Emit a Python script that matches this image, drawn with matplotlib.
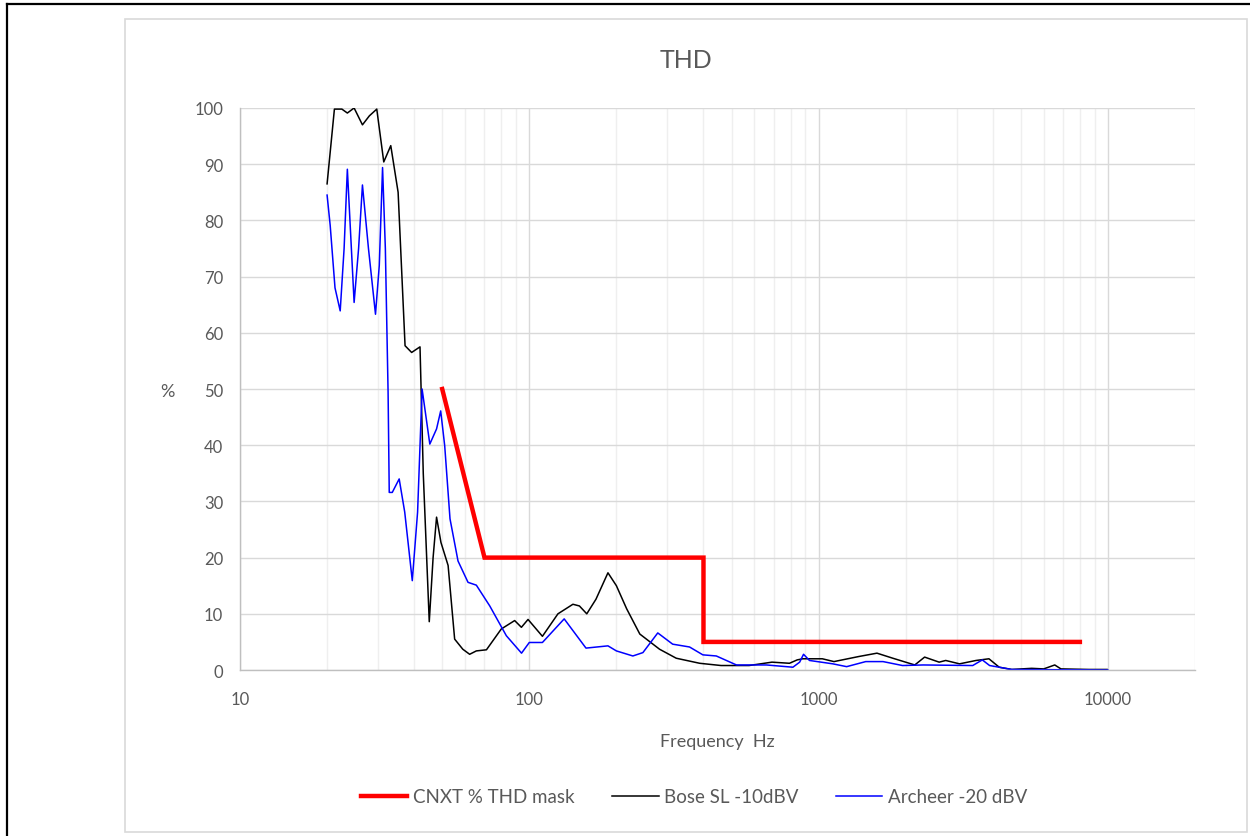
import matplotlib
matplotlib.use("Agg")

import matplotlib.pyplot as plt
from matplotlib.lines import Line2D
from matplotlib.patches import Rectangle
from matplotlib.ticker import FixedLocator, LogLocator, NullFormatter

plt.rcParams["font.family"] = ["Lato", "DejaVu Sans"]

# CNXT THD mask
mask_freq = [50, 70, 400, 400, 8000]
mask_thd = [50, 20, 20, 5, 5]

# Bose SL -10dBV
bose_freq = [20, 21.2, 22.5, 23.5, 24.8, 26.5, 28.0, 29.7, 31.4, 33.2, 35.2, 37.2, 39.2,
             41.9, 43.0, 45.1, 46.5, 47.8, 49.5, 52.4, 55.2, 58.9, 62.2, 65.6, 71.1, 80.0,
             89.0, 93.9, 99.0, 111, 125.6, 141.5, 149, 158, 170, 187, 200, 217, 241,
             282, 322, 388, 460, 575, 690, 793, 843, 881, 1030, 1130, 1376, 1591,
             1805, 2150, 2325, 2610, 2750, 3070, 3500, 3880, 4210, 4650, 5450, 6000,
             6550, 6880, 8590, 9930]
bose_thd = [86.5, 99.8, 99.8, 99.1, 100, 97.0, 98.6, 99.8, 90.4, 93.3, 85, 57.7, 56.5,
            57.5, 35.0, 8.6, 20.0, 27.2, 22.7, 18.6, 5.5, 3.7, 2.8, 3.4, 3.6, 7.3,
            8.8, 7.6, 9.0, 6.0, 10.0, 11.7, 11.4, 10.0, 12.6, 17.3, 15.0, 10.9, 6.4,
            3.7, 2.1, 1.2, 0.8, 0.8, 1.4, 1.2, 1.8, 2.0, 2.0, 1.5, 2.4, 3.0,
            2.1, 0.9, 2.3, 1.4, 1.7, 1.1, 1.7, 2.0, 0.5, 0.1, 0.3, 0.2,
            0.9, 0.2, 0.1, 0.1]

# Archeer -20 dBV
archeer_freq = [20, 20.5, 21.3, 22.2, 22.9, 23.5, 24.1, 24.8, 25.7, 26.5, 27.8, 29.4,
                30.3, 31.1, 31.8, 32.5, 32.8, 33.6, 35.5,
                37.1, 39.4, 41.1, 42.6, 45.3, 47.8, 49.4, 51.0, 53.2, 56.7, 61.4, 65.6,
                73.0, 83.3, 94, 100, 111, 132, 157, 187, 200, 228, 247, 278, 313,
                358, 398, 443, 520, 660, 815, 860, 887, 930, 1120, 1250, 1455, 1670,
                1950, 2300, 3410, 3680, 3900, 4650, 10000]
archeer_thd = [84.5, 79.1, 68.0, 63.9, 75.0, 89.1, 78.0, 65.4, 75.0, 86.3, 75.0, 63.3,
               72.0, 89.4, 75.0, 49.4, 31.6, 31.6, 34.0,
               28.1, 15.9, 28.1, 50.0, 40.2, 42.9, 46.1, 39.9, 26.9, 19.4, 15.6, 15.1,
               11.4, 6.1, 3.0, 4.9, 4.9, 9.1, 3.9, 4.3, 3.4, 2.5, 3.1, 6.6, 4.6,
               4.1, 2.7, 2.5, 0.9, 0.9, 0.5, 1.4, 2.8, 1.7, 1.1, 0.6, 1.5, 1.5,
               0.8, 0.9, 0.8, 1.8, 0.8, 0.1, 0.0]

y_ticks = [0, 10, 20, 30, 40, 50, 60, 70, 80, 90, 100]
x_ticks = [10, 100, 1000, 10000]
x_labels = ["10", "100", "1000", "10000"]

TEXT = "#595959"

fig = plt.figure(figsize=(12.5, 8.37), dpi=100)

# outer frames
fig.add_artist(Line2D([0.0056, 1.0], [0.994, 0.994], transform=fig.transFigure,
                      color="black", linewidth=1.6))
fig.add_artist(Line2D([0.0056, 0.0056], [0.0, 0.994], transform=fig.transFigure,
                      color="black", linewidth=1.6))
fig.add_artist(Rectangle((0.1, 0.0048), 0.8976, 0.9713, transform=fig.transFigure,
                         fill=False, edgecolor="#D9D9D9", linewidth=1.2))

ax = fig.add_axes([0.192, 0.1983, 0.764, 0.6715])
ax.set_xscale("log")
ax.set_xlim(10, 20000)
ax.set_ylim(0, 100)

ax.plot(mask_freq, mask_thd, color="#FF0000", linewidth=3.2,
        solid_joinstyle="miter", label="CNXT % THD mask")
ax.plot(bose_freq, bose_thd, color="black", linewidth=1.1, label="Bose SL -10dBV")
ax.plot(archeer_freq, archeer_thd, color="#0000FF", linewidth=1.1, label="Archeer -20 dBV")

ax.yaxis.set_major_locator(FixedLocator(y_ticks))
ax.xaxis.set_major_locator(FixedLocator(x_ticks))
ax.set_xticklabels(x_labels)
ax.xaxis.set_minor_locator(LogLocator(base=10, subs=range(2, 10)))
ax.xaxis.set_minor_formatter(NullFormatter())

ax.grid(which="major", axis="y", color="#D9D9D9", linewidth=1.0)
ax.grid(which="major", axis="x", color="#D9D9D9", linewidth=1.0)
ax.grid(which="minor", axis="x", color="#EFEFEF", linewidth=1.0)
ax.set_axisbelow(True)

ax.tick_params(which="both", length=0, labelsize=12, colors=TEXT, pad=12)
ax.tick_params(axis="x", pad=15)
for side in ["top", "right"]:
    ax.spines[side].set_visible(False)
for side in ["left", "bottom"]:
    ax.spines[side].set_color("#BFBFBF")
    ax.spines[side].set_linewidth(1.0)

fig.text(0.549, 1 - 60 / 837, "THD", fontsize=18, color=TEXT, ha="center", va="center")
ax.set_xlabel("Frequency  Hz", fontsize=13, color=TEXT, labelpad=19)
ax.set_ylabel("%", fontsize=13, color=TEXT, rotation=0, va="center", ha="center")
ax.yaxis.set_label_coords(-0.076, 0.497)

fig.legend(*ax.get_legend_handles_labels(), loc="center",
           bbox_to_anchor=(0.555, 1 - 798 / 837), ncol=3, frameon=False,
           fontsize=13.5, labelcolor=TEXT, handlelength=2.5, handletextpad=0.27,
           columnspacing=2.0)

fig.savefig("out.png", dpi=100)
